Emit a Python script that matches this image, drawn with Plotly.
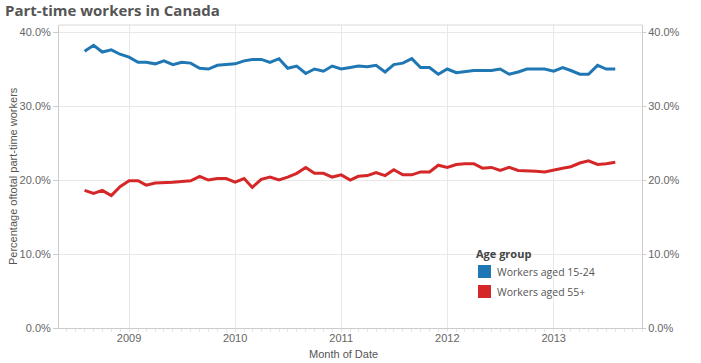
import pandas as pd
import plotly.graph_objects as go

months = pd.date_range("2008-08-01", periods=61, freq="MS")

aged_15_24 = [37.4, 38.2, 37.3, 37.6, 37.0, 36.6, 35.9, 35.9, 35.7, 36.1, 35.6, 35.9, 35.8,
              35.1, 35.0, 35.5, 35.6, 35.7, 36.1, 36.3, 36.3, 35.9, 36.4, 35.1, 35.4, 34.4,
              35.0, 34.7, 35.4, 35.0, 35.2, 35.4, 35.3, 35.5, 34.6, 35.6, 35.8, 36.4, 35.2,
              35.2, 34.3, 35.0, 34.5, 34.6, 34.8, 34.8, 34.8, 35.0, 34.3, 34.6, 35.0, 35.0,
              35.0, 34.7, 35.2, 34.8, 34.3, 34.3, 35.5, 35.0, 35.0]
aged_55_plus = [18.6, 18.2, 18.6, 17.9, 19.1, 19.9, 19.9, 19.3, 19.6, 19.6, 19.7, 19.8, 19.9,
                20.5, 20.0, 20.2, 20.2, 19.7, 20.2, 19.0, 20.1, 20.4, 20.0, 20.4, 20.9, 21.7,
                20.9, 20.9, 20.4, 20.7, 20.0, 20.5, 20.6, 21.0, 20.6, 21.4, 20.7, 20.7, 21.1,
                21.1, 22.0, 21.7, 22.1, 22.2, 22.2, 21.6, 21.7, 21.3, 21.7, 21.3, 21.3, 21.2,
                21.1, 21.4, 21.6, 21.8, 22.3, 22.6, 22.1, 22.2, 22.4]

series_names = ["Workers aged 15-24", "Workers aged 55+"]
colors = ["#1f77b4", "#d62728"]
legend_title = "Age group"

year_ticks = ["2009-01-01", "2010-01-01", "2011-01-01", "2012-01-01", "2013-01-01"]
year_labels = ["2009", "2010", "2011", "2012", "2013"]
y_ticks = [0, 10, 20, 30, 40]
y_labels = ["0.0%", "10.0%", "20.0%", "30.0%", "40.0%"]

fig = go.Figure()
for name, vals, c in zip(series_names, [aged_15_24, aged_55_plus], colors):
    fig.add_trace(go.Scatter(x=months, y=vals, mode="lines", name=name,
                             line=dict(color=c, width=3), showlegend=False))
# invisible trace for right axis
fig.add_trace(go.Scatter(x=[months[0]], y=[aged_15_24[0]], yaxis="y2", mode="markers",
                         marker=dict(opacity=0), showlegend=False, hoverinfo="skip"))

tick_font = dict(family="Liberation Sans, Arial, sans-serif", size=11, color="#666666")
title_font = dict(family="Liberation Sans, Arial, sans-serif", size=11, color="#555555")
yrange = [0, 40.95]
xr = ["2008-05-05", "2013-11-01"]

# plot area in pixels: x 59..642, y 25..328
L, R, T, B = 59, 642, 25, 328
W, H = R - L, B - T
def px(x):
    return (x - L) / W
def py(y):
    return (B - y) / H

fig.update_layout(
    width=701, height=363,
    margin=dict(l=L, r=701 - R, t=T, b=363 - B),
    paper_bgcolor="white", plot_bgcolor="white",
    title=dict(text="<b>Part-time workers in Canada</b>", x=5 / 701, xanchor="left",
               y=1 - 11 / 363, yanchor="middle",
               font=dict(family="Open Sans, sans-serif", size=15, color="#555555")),
    xaxis=dict(range=xr, tickvals=year_ticks, ticktext=year_labels, automargin=False,
               showgrid=True, gridcolor="#e8e8e8", gridwidth=1,
               showline=True, linecolor="#cccccc", linewidth=1, mirror=False,
               ticks="", tickfont=tick_font, zeroline=False,
               minor=dict(dtick="M1", ticks="outside", ticklen=3, tickcolor="#e6e6e6", showgrid=False)),
    yaxis=dict(range=yrange, tickvals=y_ticks, ticktext=y_labels, automargin=False,
               showgrid=True, gridcolor="#e8e8e8", gridwidth=1,
               showline=True, linecolor="#cccccc", linewidth=1,
               ticks="outside", ticklen=5, tickcolor="#cccccc",
               tickfont=tick_font, zeroline=False),
    yaxis2=dict(range=yrange, tickvals=y_ticks, ticktext=y_labels, overlaying="y", side="right",
                automargin=False, showgrid=False, showline=True, linecolor="#cccccc", linewidth=1,
                ticks="outside", ticklen=3, tickcolor="#cccccc",
                tickfont=tick_font, zeroline=False),
    showlegend=False,
)
# top border line
fig.add_shape(type="line", xref="paper", yref="paper", x0=0, x1=1, y0=1, y1=1,
              line=dict(color="#d8d8d8", width=1))

# axis titles
fig.add_annotation(xref="paper", yref="paper", x=px(13), y=py(176), xanchor="center", yanchor="middle",
                   text="Percentage oftotal part-time workers", textangle=-90, showarrow=False,
                   font=title_font)
fig.add_annotation(xref="paper", yref="paper", x=px(343), y=py(354), xanchor="center", yanchor="middle",
                   text="Month of Date", showarrow=False, font=title_font)

# legend drawn manually
fig.add_annotation(xref="paper", yref="paper", x=px(474), y=py(254), xanchor="left", yanchor="middle",
                   text="<b>" + legend_title + "</b>", showarrow=False,
                   font=dict(family="Open Sans, sans-serif", size=11, color="#444444"))
sq_tops = [265, 285]
for name, c, top in zip(series_names, colors, sq_tops):
    fig.add_shape(type="rect", xref="paper", yref="paper",
                  x0=px(478), x1=px(491), y0=py(top + 13), y1=py(top),
                  fillcolor=c, line=dict(width=0))
    fig.add_annotation(xref="paper", yref="paper", x=px(495), y=py(top + 6.5),
                       xanchor="left", yanchor="middle", text=name, showarrow=False,
                       font=dict(family="Open Sans, sans-serif", size=10.5, color="#555555"))

fig.write_html("out.html", config={"displayModeBar": False},
               post_script="document.body.style.margin='0';")
